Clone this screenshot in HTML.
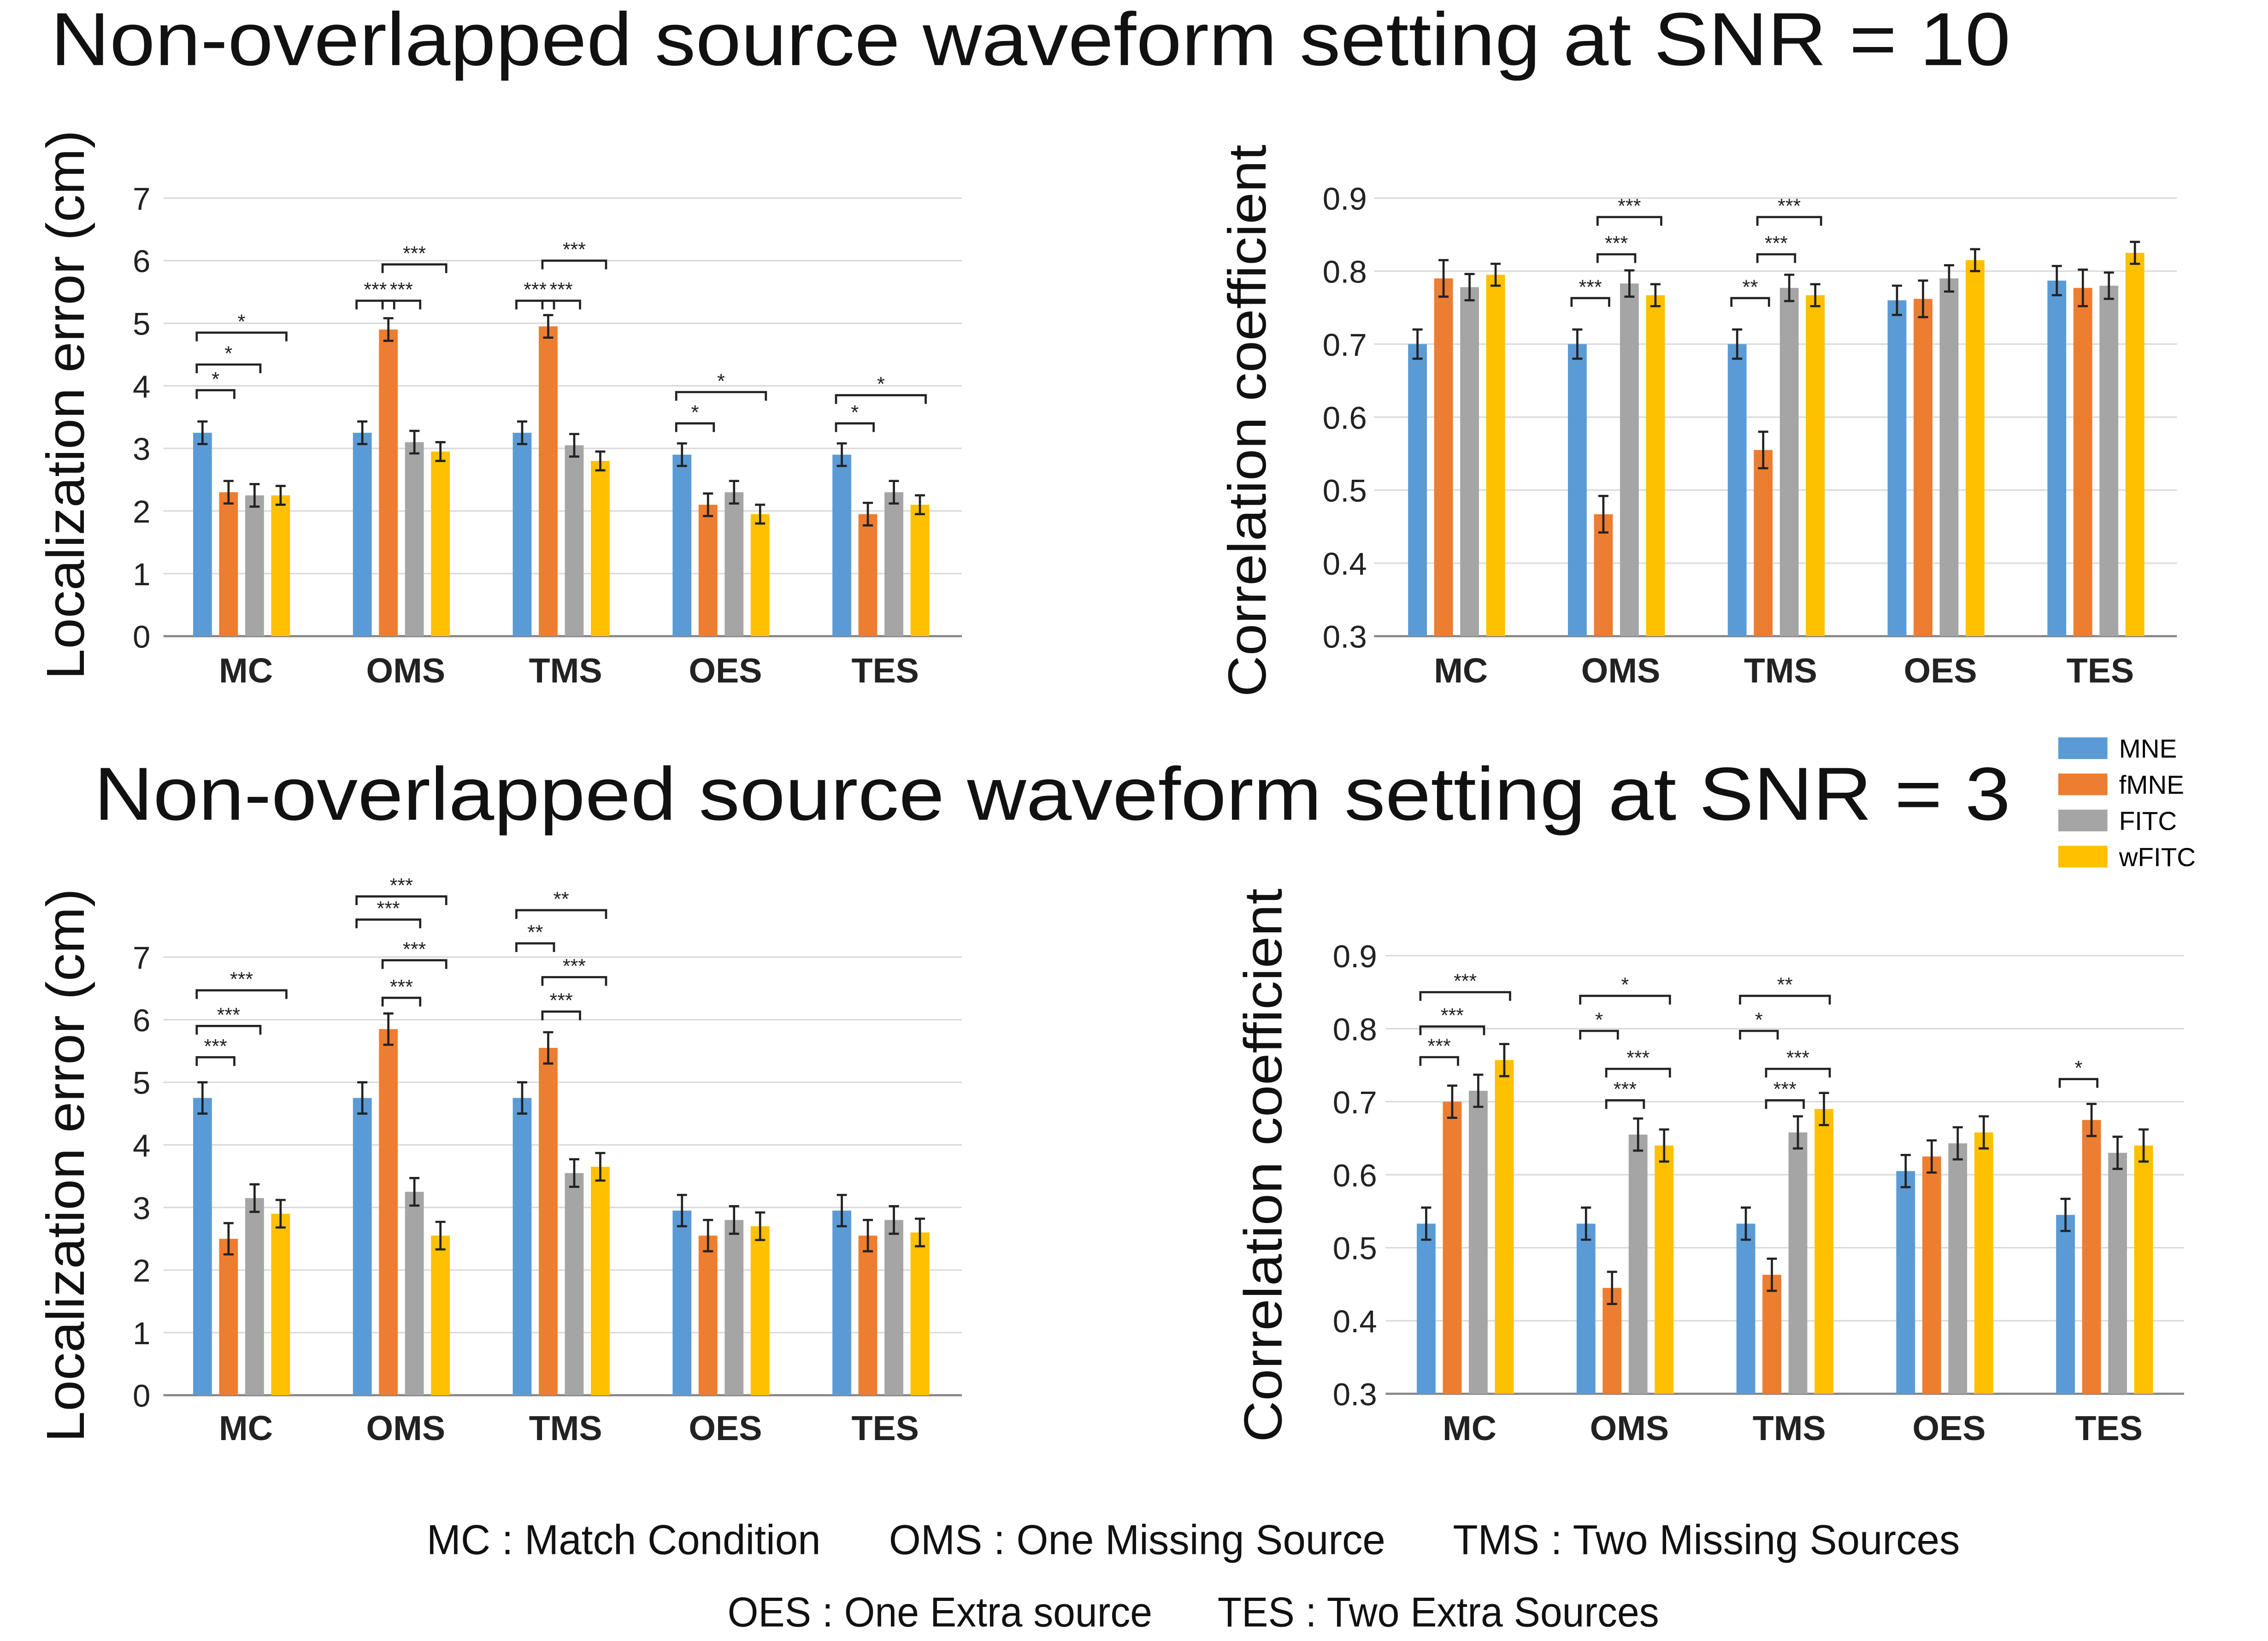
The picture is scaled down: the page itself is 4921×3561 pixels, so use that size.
<!DOCTYPE html>
<html><head><meta charset="utf-8"><style>
html,body{margin:0;padding:0;background:#fff;}
svg{display:block;font-family:"Liberation Sans",sans-serif;}
</style></head><body>
<svg id="fig" width="4921" height="3561" viewBox="0 0 1568 1135" preserveAspectRatio="none" xmlns="http://www.w3.org/2000/svg">
<rect width="1568" height="1135" fill="#fff"/>
<text x="35" y="45" font-size="52" textLength="1355" lengthAdjust="spacingAndGlyphs" fill="#111">Non-overlapped source waveform setting  at SNR = 10</text>
<text x="65" y="567" font-size="52" textLength="1325" lengthAdjust="spacingAndGlyphs" fill="#111">Non-overlapped source waveform setting  at SNR = 3</text>
<g>
<rect x="1423" y="510" width="34" height="15" fill="#5B9BD5"/><text x="1465" y="524" font-size="18">MNE</text>
<rect x="1423" y="535" width="34" height="15" fill="#ED7D31"/><text x="1465" y="549" font-size="18">fMNE</text>
<rect x="1423" y="560" width="34" height="15" fill="#A5A5A5"/><text x="1465" y="574" font-size="18">FITC</text>
<rect x="1423" y="585" width="34" height="15" fill="#FFC000"/><text x="1465" y="599" font-size="18">wFITC</text>
</g>
<text x="295" y="1075" font-size="29" textLength="1060" lengthAdjust="spacingAndGlyphs" fill="#111" xml:space="preserve">MC : Match Condition      OMS : One Missing Source      TMS : Two Missing Sources</text>
<text x="503" y="1125" font-size="29" textLength="644" lengthAdjust="spacingAndGlyphs" fill="#111" xml:space="preserve">OES : One Extra source      TES : Two Extra Sources</text>
</svg>
<script>
const categories = ["MC","OMS","TMS","OES","TES"];
const seriesNames = ["MNE","fMNE","FITC","wFITC"];
const colors = ["#5B9BD5","#ED7D31","#A5A5A5","#FFC000"];
// Top-left: localization error SNR=10
const tlMNE = [3.25,3.25,3.25,2.9,2.9];
const tlFMNE = [2.3,4.9,4.95,2.1,1.95];
const tlFITC = [2.25,3.1,3.05,2.3,2.3];
const tlWFITC = [2.25,2.95,2.8,1.95,2.1];
const tlErr = [0.18,0.18,0.18,0.15];
const locTicks = ["0","1","2","3","4","5","6","7"];
// Top-right: correlation SNR=10
const trMNE = [0.70,0.70,0.70,0.76,0.787];
const trFMNE = [0.79,0.467,0.555,0.762,0.777];
const trFITC = [0.778,0.783,0.777,0.79,0.78];
const trWFITC = [0.795,0.767,0.767,0.815,0.825];
const trErr = [0.02,0.025,0.018,0.015];
const corrTicks = ["0.3","0.4","0.5","0.6","0.7","0.8","0.9"];
// Bottom-left: localization error SNR=3
const blMNE = [4.75,4.75,4.75,2.95,2.95];
const blFMNE = [2.5,5.85,5.55,2.55,2.55];
const blFITC = [3.15,3.25,3.55,2.8,2.8];
const blWFITC = [2.9,2.55,3.65,2.7,2.6];
const blErr = [0.25,0.25,0.22,0.22];
// Bottom-right: correlation SNR=3
const brMNE = [0.533,0.533,0.533,0.605,0.545];
const brFMNE = [0.70,0.445,0.463,0.625,0.675];
const brFITC = [0.715,0.655,0.658,0.643,0.63];
const brWFITC = [0.757,0.64,0.69,0.658,0.64];
const brErr = [0.022,0.022,0.022,0.022];
// significance brackets: [category, barA, barB, level(data units), label]
const tlSig = [[0,0,1,3.93,"*"],[0,0,2,4.34,"*"],[0,0,3,4.85,"*"],[1,0,1,5.36,"***"],[1,1,2,5.36,"***"],[1,1,3,5.94,"***"],[2,0,1,5.36,"***"],[2,1,2,5.36,"***"],[2,1,3,6.0,"***"],[3,0,1,3.4,"*"],[3,0,3,3.9,"*"],[4,0,1,3.4,"*"],[4,0,3,3.85,"*"]];
const trSig = [[1,0,1,0.763,"***"],[1,1,2,0.823,"***"],[1,1,3,0.874,"***"],[2,0,1,0.763,"**"],[2,1,2,0.823,"***"],[2,1,3,0.874,"***"]];
const blSig = [[0,0,1,5.4,"***"],[0,0,2,5.9,"***"],[0,0,3,6.47,"***"],[1,0,2,7.6,"***"],[1,0,3,7.97,"***"],[1,1,3,6.95,"***"],[1,1,2,6.35,"***"],[2,0,3,7.75,"**"],[2,0,1,7.22,"**"],[2,1,3,6.68,"***"],[2,1,2,6.13,"***"]];
const brSig = [[0,0,1,0.761,"***"],[0,0,2,0.803,"***"],[0,0,3,0.85,"***"],[1,0,3,0.845,"*"],[1,0,1,0.797,"*"],[1,1,3,0.745,"***"],[1,1,2,0.702,"***"],[2,0,3,0.845,"**"],[2,0,1,0.797,"*"],[2,1,3,0.745,"***"],[2,1,2,0.702,"***"],[4,0,1,0.731,"*"]];

const NS="http://www.w3.org/2000/svg";
const svg=document.getElementById("fig");
function mk(tag,attrs,parent){const e=document.createElementNS(NS,tag);for(const k in attrs)e.setAttribute(k,attrs[k]);(parent||svg).appendChild(e);return e;}

function chart(o){
  const g=mk("g",{});
  
  
  const ys=v=>o.y0-(v-o.vmin)/(o.vmax-o.vmin)*(o.y0-o.y1);
  const cx=i=>o.c0+i*o.step;
  const bx=(i,s)=>cx(i)+(s-1.5)*18;
  o.ticks.forEach((t,k)=>{
    const v=parseFloat(t),y=ys(v);
    const l=mk("line",{x1:o.xl,x2:o.xr,y1:y,y2:y,stroke:k===0?"#888":"#d9d9d9","stroke-width":k===0?1.5:1},g);
    
    
    const tx=mk("text",{x:o.tx,y:y+8,"font-size":22,"text-anchor":"end",fill:"#222"},g);
    tx.textContent=t;
    
    
  });
  o.series.forEach((arr,s)=>{
    arr.forEach((v,i)=>{
      const x=bx(i,s),y=ys(v);
      const r=mk("rect",{x:x-6.5,y:y,width:13,height:ys(o.vmin)-y,fill:colors[s]},g);
      
      
      const e=o.err[s],ya=ys(v+e),yb=ys(v-e);
      const eb=mk("path",{d:`M${x},${ya}V${yb}M${x-3.5},${ya}H${x+3.5}M${x-3.5},${yb}H${x+3.5}`,stroke:"#222","stroke-width":1.5,fill:"none"},g);
      
      
    });
  });
  categories.forEach((c,i)=>{
    const t=mk("text",{x:cx(i)+3,y:o.cy,"font-size":24,"text-anchor":"middle",fill:"#222","font-weight":"bold"},g);
    t.textContent=c;
    
    
  });
  o.sig.forEach(([i,a,b,v,lab])=>{
    const xa=bx(i,a)-4,xb=bx(i,b)+4,y=ys(v);
    const p=mk("path",{d:`M${xa},${y+6}V${y}H${xb}V${y+6}`,stroke:"#222","stroke-width":1.5,fill:"none"},g);
    
    
    const t=mk("text",{x:(xa+xb)/2,y:y-3,"font-size":14,"text-anchor":"middle",fill:"#222"},g);
    if(lab.length===3){t.setAttribute("textLength","16");t.setAttribute("lengthAdjust","spacingAndGlyphs");}
    t.textContent=lab;
    
    
  });
  const yt=mk("text",{transform:`translate(${o.ytx},${o.yty}) rotate(-90)`,"font-size":37,"text-anchor":"middle",fill:"#111",textLength:o.ytl,lengthAdjust:"spacingAndGlyphs"},g);
  yt.textContent=o.ytitle;
  
  
}
chart({name:"chart-loc-error-snr10",vmin:0,vmax:7,y0:440,y1:137,xl:113,xr:665,tx:104,c0:167,step:110.5,cy:472,ticks:locTicks,series:[tlMNE,tlFMNE,tlFITC,tlWFITC],err:tlErr,sig:tlSig,ytitle:"Localization error (cm)",ytx:58,yty:280,ytl:380});
chart({name:"chart-corr-snr10",vmin:0.3,vmax:0.9,y0:440,y1:137,xl:950,xr:1505,tx:945,c0:1007,step:110.5,cy:472,ticks:corrTicks,series:[trMNE,trFMNE,trFITC,trWFITC],err:trErr,sig:trSig,ytitle:"Correlation coefficient",ytx:875,yty:291,ytl:382});
chart({name:"chart-loc-error-snr3",vmin:0,vmax:7,y0:965,y1:662,xl:113,xr:665,tx:104,c0:167,step:110.5,cy:996,ticks:locTicks,series:[blMNE,blFMNE,blFITC,blWFITC],err:blErr,sig:blSig,ytitle:"Localization error (cm)",ytx:58,yty:806,ytl:383});
chart({name:"chart-corr-snr3",vmin:0.3,vmax:0.9,y0:964,y1:661,xl:958,xr:1510,tx:952,c0:1013,step:110.5,cy:996,ticks:corrTicks,series:[brMNE,brFMNE,brFITC,brWFITC],err:brErr,sig:brSig,ytitle:"Correlation coefficient",ytx:886,yty:806,ytl:383});
</script>
</body></html>
